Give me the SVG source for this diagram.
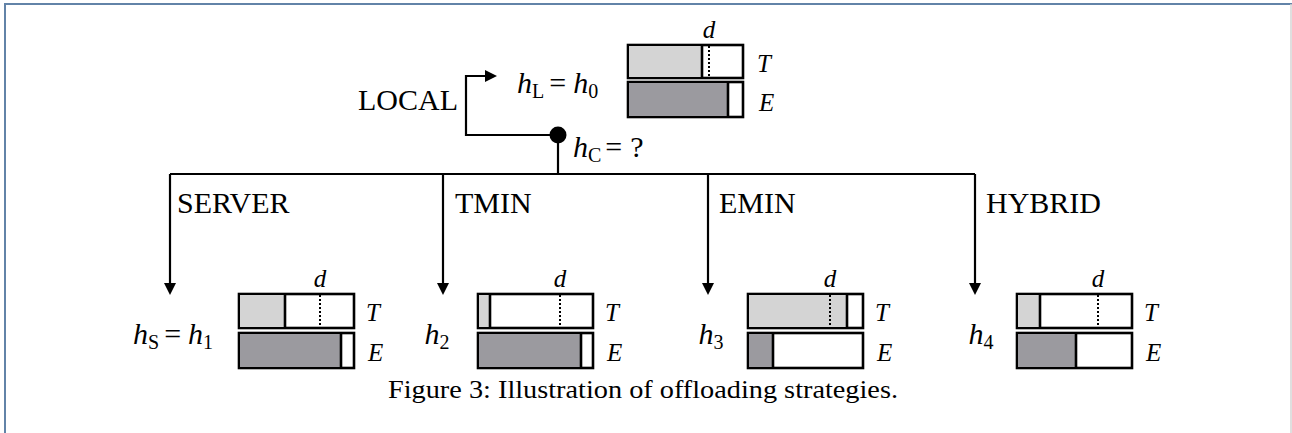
<svg xmlns="http://www.w3.org/2000/svg" width="1292" height="433" viewBox="0 0 1292 433">
<defs>
<style>
text{font-family:"Liberation Serif","Times New Roman",serif;fill:#000}
.lbl{font-size:30px}
.it{font-style:italic}
.sub{font-size:20px;font-style:normal}
.box{stroke:#000;stroke-width:2.6;fill:#fff}
.lt{fill:#d4d4d4}
.dk{fill:#9b9a9f}
.sep{stroke:#000;stroke-width:2.6}
.dot{stroke:#000;stroke-width:2;stroke-dasharray:2 2}
.con{stroke:#000;stroke-width:2.2;fill:none}
.ax{font-size:25px;font-style:italic}
</style>
<marker id="ah" viewBox="0 0 12 12" refX="6" refY="6" markerWidth="12" markerHeight="12" markerUnits="userSpaceOnUse" orient="auto">
<path d="M0,0 L12,6 L0,12 z" fill="#000"/>
</marker>
</defs>
<rect width="1292" height="433" fill="#fff"/>
<path d="M5,433 V4 H1292" fill="none" stroke="#6283a8" stroke-width="2"/>
<line x1="1291" y1="4" x2="1291" y2="433" stroke="#d4d4d4" stroke-width="1.5"/>

<g id="connectors">
<path class="con" d="M558,135 H466 V76 H491" marker-end="url(#ah)"/>
<path class="con" d="M558,135 V174"/>
<path class="con" d="M170,174 H975"/>
<path class="con" d="M170,174 V289" marker-end="url(#ah)"/>
<path class="con" d="M443,174 V289" marker-end="url(#ah)"/>
<path class="con" d="M708,174 V289" marker-end="url(#ah)"/>
<path class="con" d="M975,174 V289" marker-end="url(#ah)"/>
<text class="lbl" x="358" y="110">LOCAL</text>
<text class="lbl" x="177" y="213">SERVER</text>
<text class="lbl" x="455" y="213">TMIN</text>
<text class="lbl" x="719" y="213">EMIN</text>
<text class="lbl" x="986" y="213">HYBRID</text>
</g>

<g id="choice">
<circle cx="558" cy="135" r="8.5" fill="#000"/>
<text class="lbl" x="573" y="157"><tspan class="it">h</tspan><tspan class="sub" dy="5">C</tspan><tspan dy="-5" dx="4">=</tspan><tspan dx="8">?</tspan></text>
</g>

<g id="local">
<text class="lbl" x="517" y="93"><tspan class="it">h</tspan><tspan class="sub" dy="5">L</tspan><tspan dy="-5" dx="5">=</tspan><tspan class="it" dx="7">h</tspan><tspan class="sub" dy="5">0</tspan></text>
<rect class="box" x="628" y="45" width="115" height="33"/>
<rect class="lt" x="629" y="46" width="73" height="31"/>
<line class="sep" x1="702" y1="45" x2="702" y2="78"/>
<line class="dot" x1="709" y1="46" x2="709" y2="78"/>
<rect class="box" x="628" y="82" width="115" height="35"/>
<rect class="dk" x="629" y="83" width="99" height="33"/>
<line class="sep" x1="728" y1="82" x2="728" y2="117"/>
<text class="ax" x="709" y="38" text-anchor="middle">d</text>
<text class="ax" x="757" y="72">T</text>
<text class="ax" x="759" y="111">E</text>
</g>

<g id="server">
<text class="lbl" x="133" y="344"><tspan class="it">h</tspan><tspan class="sub" dy="5">S</tspan><tspan dy="-5" dx="5">=</tspan><tspan class="it" dx="7">h</tspan><tspan class="sub" dy="5">1</tspan></text>
<rect class="box" x="239" y="294" width="115" height="34"/>
<rect class="lt" x="240" y="295" width="45" height="32"/>
<line class="sep" x1="285" y1="294" x2="285" y2="328"/>
<line class="dot" x1="320" y1="295" x2="320" y2="328"/>
<rect class="box" x="239" y="333" width="115" height="35"/>
<rect class="dk" x="240" y="334" width="101" height="33"/>
<line class="sep" x1="341" y1="333" x2="341" y2="368"/>
<text class="ax" x="320" y="287" text-anchor="middle">d</text>
<text class="ax" x="366" y="321">T</text>
<text class="ax" x="368" y="361">E</text>
</g>

<g id="tmin">
<text class="lbl" x="437" y="344" text-anchor="middle"><tspan class="it">h</tspan><tspan class="sub" dy="5">2</tspan></text>
<rect class="box" x="478" y="294" width="115" height="34"/>
<rect class="lt" x="479" y="295" width="11" height="32"/>
<line class="sep" x1="490" y1="294" x2="490" y2="328"/>
<line class="dot" x1="560" y1="295" x2="560" y2="328"/>
<rect class="box" x="478" y="333" width="115" height="35"/>
<rect class="dk" x="479" y="334" width="102" height="33"/>
<line class="sep" x1="581" y1="333" x2="581" y2="368"/>
<text class="ax" x="560" y="287" text-anchor="middle">d</text>
<text class="ax" x="605" y="321">T</text>
<text class="ax" x="607" y="361">E</text>
</g>

<g id="emin">
<text class="lbl" x="711" y="344" text-anchor="middle"><tspan class="it">h</tspan><tspan class="sub" dy="5">3</tspan></text>
<rect class="box" x="748" y="294" width="115" height="34"/>
<rect class="lt" x="749" y="295" width="98" height="32"/>
<line class="sep" x1="847" y1="294" x2="847" y2="328"/>
<line class="dot" x1="830" y1="295" x2="830" y2="328"/>
<rect class="box" x="748" y="333" width="115" height="35"/>
<rect class="dk" x="749" y="334" width="24" height="33"/>
<line class="sep" x1="773" y1="333" x2="773" y2="368"/>
<text class="ax" x="830" y="287" text-anchor="middle">d</text>
<text class="ax" x="875" y="321">T</text>
<text class="ax" x="877" y="361">E</text>
</g>

<g id="hybrid">
<text class="lbl" x="981" y="344" text-anchor="middle"><tspan class="it">h</tspan><tspan class="sub" dy="5">4</tspan></text>
<rect class="box" x="1017" y="294" width="115" height="34"/>
<rect class="lt" x="1018" y="295" width="22" height="32"/>
<line class="sep" x1="1040" y1="294" x2="1040" y2="328"/>
<line class="dot" x1="1098" y1="295" x2="1098" y2="328"/>
<rect class="box" x="1017" y="333" width="115" height="35"/>
<rect class="dk" x="1018" y="334" width="58" height="33"/>
<line class="sep" x1="1076" y1="333" x2="1076" y2="368"/>
<text class="ax" x="1098" y="287" text-anchor="middle">d</text>
<text class="ax" x="1144" y="321">T</text>
<text class="ax" x="1146" y="361">E</text>
</g>

<text x="643" y="398" text-anchor="middle" font-size="26" textLength="510" lengthAdjust="spacingAndGlyphs">Figure 3: Illustration of offloading strategies.</text>
</svg>
